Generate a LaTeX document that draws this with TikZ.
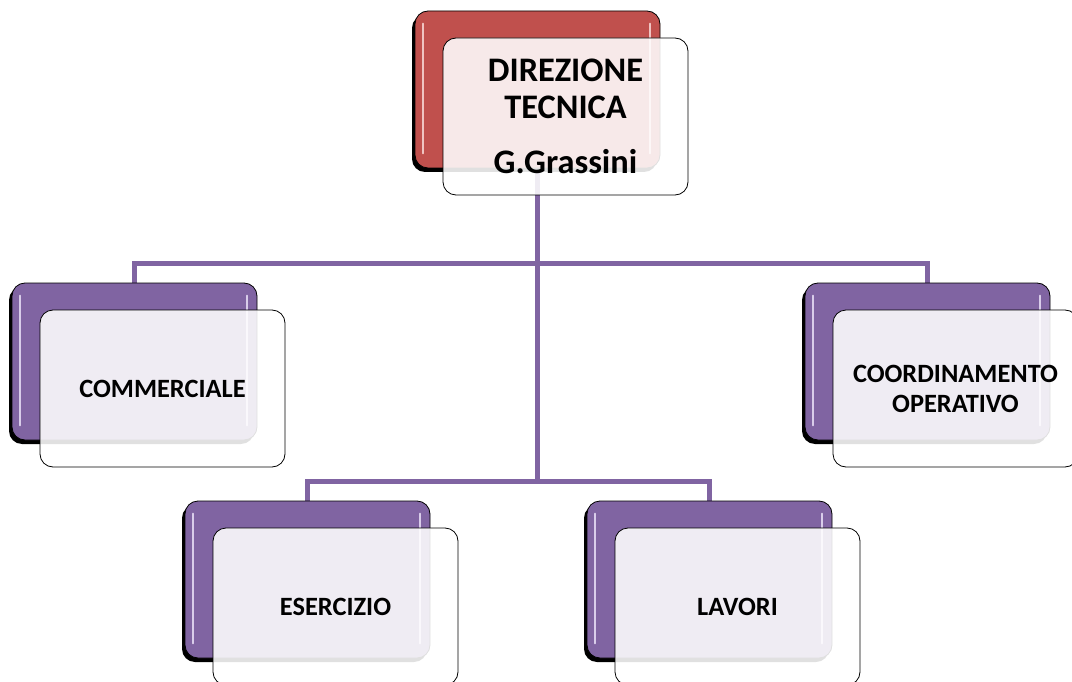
\documentclass[tikz,border=0pt]{standalone}
\usepackage{fontspec}
\setmainfont{Carlito}
\usetikzlibrary{shadows,backgrounds}
\definecolor{pur}{HTML}{8064A2}
\definecolor{redd}{HTML}{C0504D}
\definecolor{purhl}{HTML}{D9CDEA}
\definecolor{redhl}{HTML}{F0C4C2}
\tikzset{
  backbox/.style={draw=black, line width=0.8pt, rounded corners=13pt,
    minimum width=245pt, minimum height=157pt, inner sep=0pt,
    drop shadow={shadow xshift=-3pt, shadow yshift=-4pt, opacity=1, fill=black}},
  frontbox/.style={draw=black, line width=0.8pt, fill=white, fill opacity=0.88,
    text opacity=1, rounded corners=13pt, minimum width=245pt, minimum height=157pt,
    inner sep=0pt, align=center, font=\bfseries\fontsize{26.4}{30}\selectfont},
  conn/.style={draw=pur, line width=5pt},
  hl/.style={line width=2pt, line cap=round}
}
\begin{document}
\begin{tikzpicture}[x=1pt,y=-1pt]
\clip (0,0) rectangle (1072,682);
% top
\node[backbox, fill=redd] (tb) at (537.5,89.5) {};
\draw[hl, redhl] ([shift={(8pt,-13pt)}]tb.north west) -- ([shift={(8pt,15pt)}]tb.south west);
\draw[hl, redhl] ([shift={(-10pt,-13pt)}]tb.north east) -- ([shift={(-10pt,15pt)}]tb.south east);
\node[frontbox, font=\bfseries\fontsize{34.4}{37}\selectfont] (tf) at (565.5,116.5) {DIREZIONE\\TECNICA\\[18pt]G.Grassini};
% commerciale
\node[backbox, fill=pur] (cb) at (134.5,361.5) {};
\draw[hl, purhl] ([shift={(8pt,-13pt)}]cb.north west) -- ([shift={(8pt,15pt)}]cb.south west);
\draw[hl, purhl] ([shift={(-10pt,-13pt)}]cb.north east) -- ([shift={(-10pt,15pt)}]cb.south east);
\node[frontbox] (cf) at (162.5,388.5) {COMMERCIALE};
% coordinamento
\node[backbox, fill=pur] (ob) at (927.5,361.5) {};
\draw[hl, purhl] ([shift={(8pt,-13pt)}]ob.north west) -- ([shift={(8pt,15pt)}]ob.south west);
\draw[hl, purhl] ([shift={(-10pt,-13pt)}]ob.north east) -- ([shift={(-10pt,15pt)}]ob.south east);
\node[frontbox] (of) at (955.5,388.5) {COORDINAMENTO\\OPERATIVO};
% esercizio
\node[backbox, fill=pur] (eb) at (307.5,579.5) {};
\draw[hl, purhl] ([shift={(8pt,-13pt)}]eb.north west) -- ([shift={(8pt,15pt)}]eb.south west);
\draw[hl, purhl] ([shift={(-10pt,-13pt)}]eb.north east) -- ([shift={(-10pt,15pt)}]eb.south east);
\node[frontbox] (ef) at (335.5,606.5) {ESERCIZIO};
% lavori
\node[backbox, fill=pur] (lb) at (709.5,579.5) {};
\draw[hl, purhl] ([shift={(8pt,-13pt)}]lb.north west) -- ([shift={(8pt,15pt)}]lb.south west);
\draw[hl, purhl] ([shift={(-10pt,-13pt)}]lb.north east) -- ([shift={(-10pt,15pt)}]lb.south east);
\node[frontbox] (lf) at (737.5,606.5) {LAVORI};
% connectors
\coordinate (bus1) at (537.5,263);
\coordinate (bus2) at (537.5,481.5);
\begin{scope}[on background layer]
\draw[conn] (tb.south) -- (bus1) -| (cb.north);
\draw[conn] (bus1) -| (ob.north);
\draw[conn] (bus1) -- (bus2) -| (eb.north);
\draw[conn] (bus2) -| (lb.north);
\end{scope}
\end{tikzpicture}
\end{document}
